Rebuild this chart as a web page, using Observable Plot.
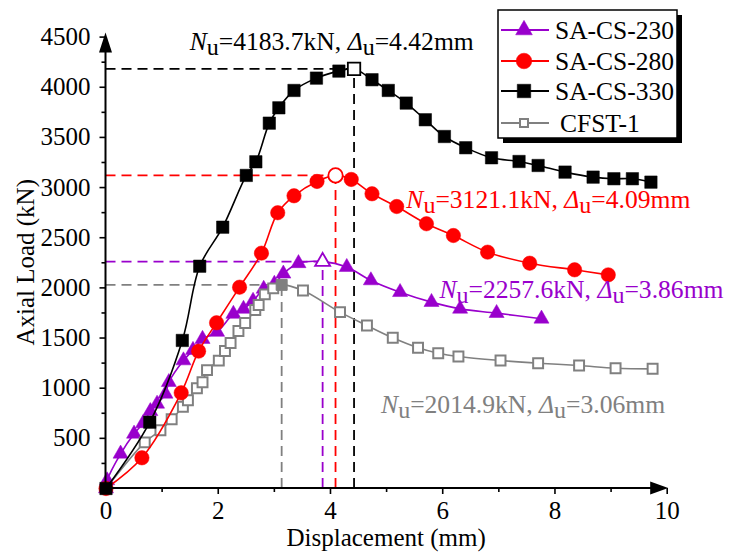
<!DOCTYPE html>
<html><head><meta charset="utf-8">
<script src="https://cdn.jsdelivr.net/npm/d3@7"></script>
<script src="https://cdn.jsdelivr.net/npm/@observablehq/plot@0.6"></script>
<style>
body{margin:0;background:#fff}
svg{font-family:"Liberation Serif","Times New Roman",serif}
</style>
</head><body><div id="chart"></div>
<script>
// ---- data ----
const seriesNames = ["SA-CS-230", "SA-CS-280", "SA-CS-330", "CFST-1"];
const seriesColors = ["#9900cc", "#ff0000", "#000000", "#808080"];
const seriesSymbols = ["triangle", "circle", "square", "square"];

const sa230Disp = [0, 0.02, 0.26, 0.50, 0.66, 0.79, 0.91, 1.06, 1.12, 1.38, 1.55, 1.72, 1.98, 2.27, 2.45, 2.62, 2.81, 3.00, 3.16, 3.43, 3.86, 4.29, 4.72, 5.24, 5.80, 6.31, 6.96, 7.76];
const sa230Load = [0, 80, 346, 545, 650, 770, 844, 944, 1060, 1276, 1380, 1490, 1560, 1740, 1790, 1870, 1990, 2040, 2141, 2245, 2262, 2207, 2074, 1957, 1858, 1791, 1748, 1692];

const sa280Disp = [0, 0.64, 1.34, 1.65, 1.97, 2.38, 2.77, 3.06, 3.35, 3.76, 4.09, 4.37, 4.74, 5.18, 5.71, 6.19, 6.80, 7.55, 8.35, 8.95];
const sa280Load = [0, 306, 954, 1369, 1652, 2007, 2346, 2749, 2918, 3061, 3121.1, 3081, 2938, 2811, 2639, 2522, 2356, 2246, 2180, 2130];

const sa330Disp = [0, 0.78, 1.36, 1.67, 2.08, 2.50, 2.67, 2.91, 3.08, 3.35, 3.75, 4.15, 4.42, 4.74, 5.03, 5.35, 5.69, 6.03, 6.41, 6.87, 7.36, 7.70, 8.18, 8.68, 9.05, 9.38, 9.71];
const sa330Load = [0, 661, 1476, 2216, 2605, 3121, 3257, 3642, 3795, 3968, 4091, 4161, 4183.7, 4075, 3968, 3842, 3676, 3509, 3397, 3297, 3260, 3220, 3154, 3104, 3088, 3088, 3054];

const cfstDisp = [0, 0.69, 0.97, 1.17, 1.37, 1.46, 1.62, 1.72, 1.80, 2.01, 2.12, 2.22, 2.36, 2.48, 2.66, 2.72, 2.83, 2.98, 3.13, 3.51, 4.17, 4.65, 5.11, 5.56, 5.92, 6.28, 7.03, 7.70, 8.43, 9.08, 9.74];
const cfstLoad = [0, 460, 580, 690, 815, 880, 1000, 1060, 1180, 1275, 1370, 1450, 1570, 1650, 1780, 1830, 1935, 1995, 2030, 1974, 1758, 1625, 1502, 1403, 1349, 1316, 1276, 1249, 1226, 1199, 1193];

const peakNu = [2257.6, 3121.1, 4183.7, 2014.9];   // label values (kN)
const peakDu = [3.86, 4.09, 4.42, 3.06];           // label values (mm)

const xMajorTicks = [0, 2, 4, 6, 8, 10];
const xMinorTicks = [1, 3, 5, 7, 9];
const yMajorTicks = [500, 1000, 1500, 2000, 2500, 3000, 3500, 4000, 4500];
const yMinorTicks = [250, 750, 1250, 1750, 2250, 2750, 3250, 3750, 4250];

// ---- build tables ----
const rawD = [sa230Disp, sa280Disp, sa330Disp, cfstDisp];
const rawL = [sa230Load, sa280Load, sa330Load, cfstLoad];
const series = seriesNames.map((name, i) => {
  const pts = rawD[i].map((d, j) => ({name, d, n: rawL[i][j]}));
  const pk = d3.maxIndex(pts, p => p.n);
  return {name, color: seriesColors[i], symbol: seriesSymbols[i], pts, peak: pts[pk], others: pts.filter((p, j) => j !== pk)};
});

// ---- layout constants ----
const FONT = '"Liberation Serif","Times New Roman",serif';
const dash = "10,6";
const drawOrder = [0, 3, 1, 2];
const dotR = {triangle: 5.6, circle: 7.2, square: 7};

const marks = [];
// peak reference dashed lines
series.forEach(s => {
  marks.push(Plot.ruleY([s.peak], {y: "n", x1: 0, x2: "d", stroke: s.color, strokeWidth: 1.8, strokeDasharray: dash}));
  marks.push(Plot.ruleX([s.peak], {x: "d", y1: 0, y2: "n", stroke: s.color, strokeWidth: 1.8, strokeDasharray: dash}));
});
drawOrder.forEach(i => {
  const s = series[i];
  const isCfst = s.name === "CFST-1";
  marks.push(Plot.line(s.pts, {x: "d", y: "n", stroke: s.color, strokeWidth: 1.6, curve: "catmull-rom"}));
  marks.push(Plot.dot(s.others, {
    x: "d", y: "n", symbol: () => s.symbol,
    r: isCfst ? 5.6 : dotR[s.symbol],
    fill: isCfst ? "white" : s.color,
    stroke: s.color, strokeWidth: isCfst ? 2 : 0.5
  }));
  marks.push(Plot.dot([s.peak], {
    x: "d", y: "n", symbol: () => s.symbol,
    r: isCfst ? 6.2 : dotR[s.symbol],
    fill: isCfst ? s.color : "white",
    stroke: s.color, strokeWidth: isCfst ? 1 : 1.8
  }));
});
// axes
marks.push(Plot.axisX(xMajorTicks, {anchor: "bottom", tickSize: 6, tickPadding: 7, strokeWidth: 1.6, tickFormat: d => String(d), label: null, fontSize: 25}));
marks.push(Plot.axisX(xMinorTicks, {anchor: "bottom", tickSize: 4, tickFormat: () => "", strokeWidth: 1.6, label: null}));
marks.push(Plot.axisY(yMajorTicks, {anchor: "left", tickSize: 6, tickPadding: 9.5, strokeWidth: 1.6, tickFormat: d => String(d), label: null, fontSize: 25}));
marks.push(Plot.axisY(yMinorTicks, {anchor: "left", tickSize: 4, tickFormat: () => "", strokeWidth: 1.6, label: null}));

const plot = Plot.plot({
  width: 729, height: 554,
  marginLeft: 105.5, marginRight: 62.3, marginTop: 36.6, marginBottom: 66,
  x: {domain: [0, 10]},
  y: {domain: [0, 4500]},
  style: {fontFamily: FONT, fontSize: "25px", color: "black", background: "white"},
  marks
});
document.getElementById("chart").appendChild(plot);

// ---- decorations drawn with the plot's own scales ----
const xs = plot.scale("x"), ys = plot.scale("y");
const svg = d3.select(plot);
const x0 = xs.apply(0), y0 = ys.apply(0);
const xEnd = xs.apply(10) + 1.5, yEnd = ys.apply(4500) - 4;
const ax = svg.append("g");
ax.append("line").attr("x1", x0).attr("y1", y0).attr("x2", x0).attr("y2", yEnd + 16).attr("stroke", "black").attr("stroke-width", 2);
ax.append("line").attr("x1", x0 - 1).attr("y1", y0).attr("x2", xEnd - 16).attr("y2", y0).attr("stroke", "black").attr("stroke-width", 2);
ax.append("path").attr("d", `M${x0},${yEnd}L${x0 - 6.5},${yEnd + 20}L${x0 + 6.5},${yEnd + 20}Z`).attr("fill", "black");
ax.append("path").attr("d", `M${xEnd},${y0}L${xEnd - 18},${y0 - 6.5}L${xEnd - 18},${y0 + 6.5}Z`).attr("fill", "black");

// axis titles
svg.append("text").attr("x", (x0 + xs.apply(10)) / 2).attr("y", 546).attr("text-anchor", "middle")
  .attr("font-size", 25).attr("fill", "black").text("Displacement (mm)");
svg.append("text").attr("transform", `translate(34,${(y0 + ys.apply(4500)) / 2}) rotate(-90)`).attr("text-anchor", "middle")
  .attr("font-size", 25).attr("fill", "black").text("Axial Load (kN)");

// peak annotations (left/baseline anchor in data units)
const labelAnchorD = [5.95, 5.36, 1.50, 4.91];
const labelAnchorN = [1894, 2792, 4367, 748];
series.forEach((s, i) => {
  const t = svg.append("text").attr("x", xs.apply(labelAnchorD[i])).attr("y", ys.apply(labelAnchorN[i]))
    .attr("text-anchor", "start").attr("font-size", 25.6).attr("fill", s.color);
  t.append("tspan").attr("font-style", "italic").text("N");
  t.append("tspan").attr("dy", 5).attr("font-size", 24).text("u");
  t.append("tspan").attr("dy", -5).text(`=${peakNu[i].toFixed(1)}kN, `);
  t.append("tspan").attr("font-style", "italic").text("\u0394");
  t.append("tspan").attr("dy", 5).attr("font-size", 24).text("u");
  t.append("tspan").attr("dy", -5).text(`=${peakDu[i].toFixed(2)}mm`);
});

// legend
const lg = svg.append("g").attr("transform", "translate(498,10)");
lg.append("rect").attr("x", 5).attr("y", 5).attr("width", 179).attr("height", 128).attr("fill", "black");
lg.append("rect").attr("x", 0).attr("y", 0).attr("width", 179).attr("height", 128).attr("fill", "white").attr("stroke", "black").attr("stroke-width", 1.5);
const rowY = [20, 51, 81, 113];
const legOrder = [0, 1, 2, 3];
legOrder.forEach((i, k) => {
  const s = series[i];
  const y = rowY[k];
  const isCfst = s.name === "CFST-1";
  lg.append("line").attr("x1", 3).attr("x2", 51).attr("y1", y).attr("y2", y).attr("stroke", s.color).attr("stroke-width", 1.8);
  const sym = s.symbol === "triangle" ? d3.symbolTriangle : s.symbol === "circle" ? d3.symbolCircle : d3.symbolSquare;
  const r = isCfst ? 4.5 : dotR[s.symbol] + 0.6;
  lg.append("path").attr("transform", `translate(26,${y})`).attr("d", d3.symbol(sym, Math.PI * r * r)())
    .attr("fill", isCfst ? "white" : s.color).attr("stroke", s.color).attr("stroke-width", isCfst ? 2 : 0.5);
  lg.append("text").attr("x", isCfst ? 62 : 57).attr("y", y).attr("dy", "0.35em").attr("text-anchor", "start")
    .attr("font-size", 25.5).attr("fill", "black").text(s.name);
});
</script>
</body></html>
